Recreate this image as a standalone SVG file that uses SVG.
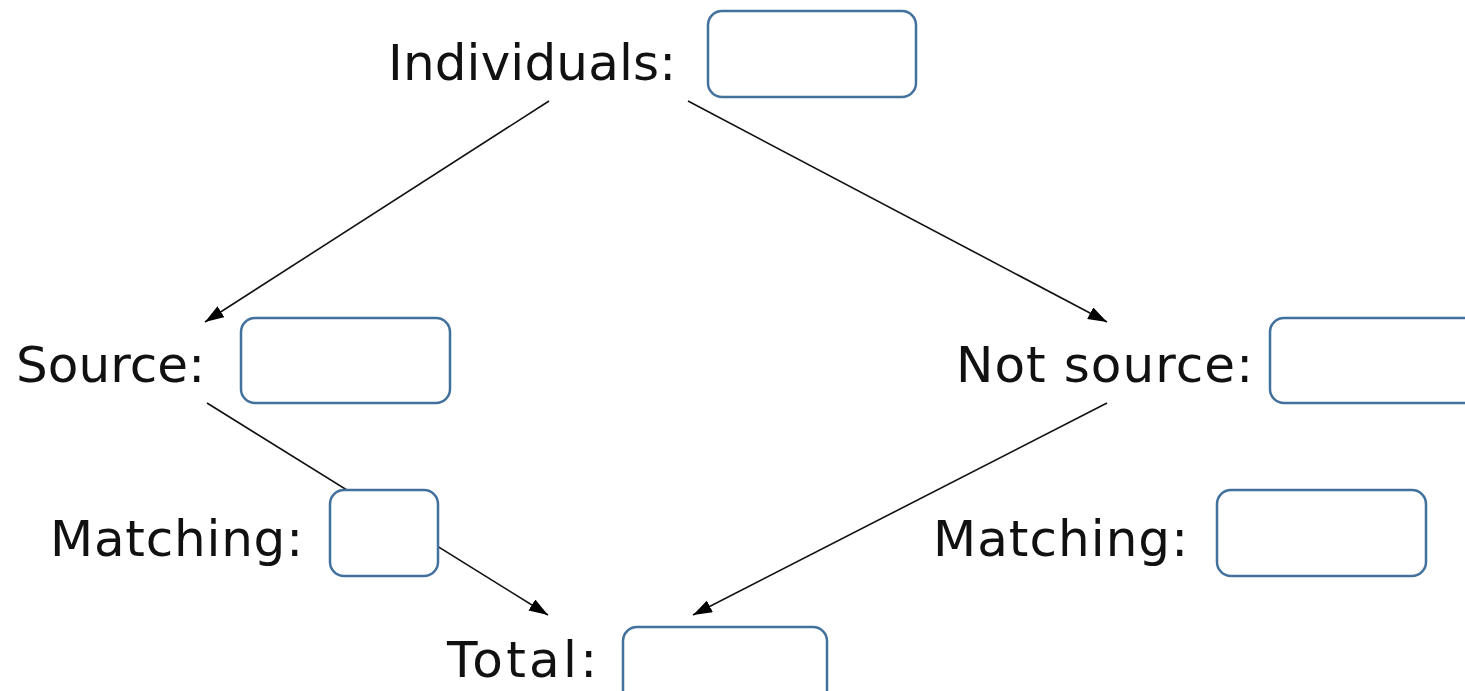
<svg xmlns="http://www.w3.org/2000/svg" width="1465" height="691" viewBox="0 0 1465 691">
<style>
.lbl{font-family:"DejaVu Sans",Verdana,sans-serif;font-size:50px;fill:#111}
.box{fill:#fff;stroke:#41719C;stroke-width:2.5}
.con{stroke:#111;stroke-width:1.6;fill:none;marker-end:url(#ah)}
</style>
<defs>
<marker id="ah" markerUnits="userSpaceOnUse" markerWidth="19" markerHeight="13" viewBox="0 0 19 13" refX="19" refY="6.5" orient="auto">
<path d="M0,0 L19,6.5 L0,13 z" fill="#000"/>
</marker>
</defs>
<rect width="1465" height="691" fill="#fff"/>
<g id="connectors">
<line class="con" x1="549" y1="101" x2="205" y2="322"/>
<line class="con" x1="688" y1="101" x2="1107" y2="322"/>
<line class="con" x1="207" y1="403" x2="548" y2="615"/>
<line class="con" x1="1107" y1="403" x2="693" y2="615"/>
</g>
<g id="individuals">
<text class="lbl" x="388" y="80" textLength="288" lengthAdjust="spacing">Individuals:</text>
<rect class="box" x="708" y="11" width="208" height="86" rx="14"/>
</g>
<g id="source">
<text class="lbl" x="16" y="382" textLength="189" lengthAdjust="spacing">Source:</text>
<rect class="box" x="241" y="318" width="209" height="85" rx="14"/>
</g>
<g id="notsource">
<text class="lbl" x="956" y="382" textLength="297" lengthAdjust="spacing">Not source:</text>
<rect class="box" x="1270" y="318" width="209" height="85" rx="14"/>
</g>
<g id="matching-left">
<text class="lbl" x="50" y="556" textLength="253" lengthAdjust="spacing">Matching:</text>
<rect class="box" x="330" y="490" width="108" height="86" rx="14"/>
</g>
<g id="matching-right">
<text class="lbl" x="933" y="556" textLength="255" lengthAdjust="spacing">Matching:</text>
<rect class="box" x="1217" y="490" width="209" height="86" rx="14"/>
</g>
<g id="total">
<text class="lbl" x="447" y="677" textLength="150" lengthAdjust="spacing">Total:</text>
<rect class="box" x="623" y="627" width="204" height="86" rx="14"/>
</g>
</svg>
